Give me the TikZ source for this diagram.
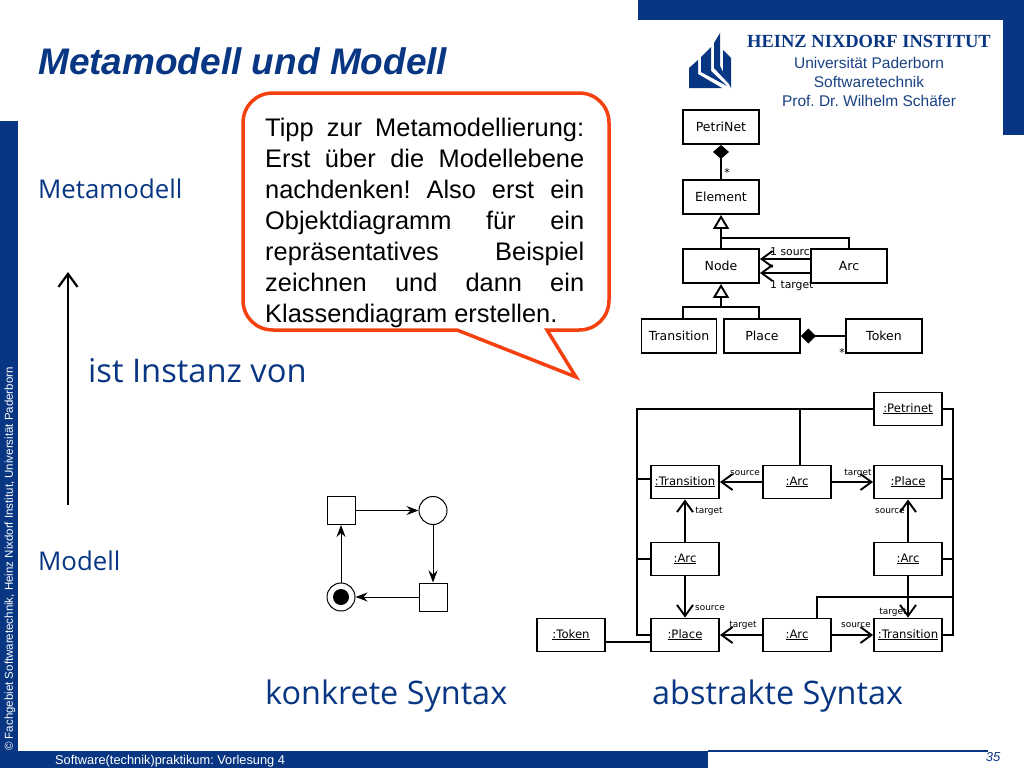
\documentclass[tikz,border=0pt]{standalone}
\usepackage{fontspec}
\setmainfont{Liberation Sans}
\newfontfamily\umlfont{DejaVu Sans}[Scale=0.94]
\newfontfamily\slidefont{Open Sans}
\newfontfamily\logofont{Liberation Serif}
\usetikzlibrary{arrows.meta,positioning,calc}
\definecolor{hnblue}{RGB}{8,54,130}
\definecolor{tipred}{RGB}{245,64,16}
\tikzset{
    classbox/.style={rectangle, draw=black, line width=1.9pt, fill=white, minimum width=76pt, minimum height=34pt, inner sep=0pt, font=\umlfont\fontsize{13.3}{15}\selectfont},
    objbox/.style={rectangle, draw=black, line width=1.9pt, fill=white, minimum width=68pt, minimum height=33pt, inner sep=0pt, text height=9pt, text depth=3pt, font=\umlfont\fontsize{12.4}{14}\selectfont},
    rolelabel/.style={inner sep=0pt, font=\umlfont\fontsize{9.5}{11}\selectfont},
    multlabel/.style={inner sep=0pt, font=\umlfont\fontsize{11.5}{13}\selectfont},
    slidelabel/.style={inner sep=0pt, anchor=west, text=hnblue, font=\slidefont\fontsize{25.8}{30}\selectfont},
    syntaxlabel/.style={slidelabel, font=\slidefont\fontsize{32.4}{34}\selectfont},
    logoline/.style={inner sep=0pt, text=hnblue!85!gray, font=\fontsize{15.5}{17}\selectfont},
    uline/.style={draw=black, line width=1.9pt},
    openarrow/.style={uline, -{Straight Barb[length=11pt, width=16pt, line width=1.9pt]}},
    placenode/.style={circle, draw=black, line width=1pt, fill=white, minimum size=28pt, inner sep=0pt},
    transnode/.style={rectangle, draw=black, line width=1pt, fill=white, minimum size=28pt, inner sep=0pt},
    netarrow/.style={draw=black, line width=1pt, -{Stealth[length=12pt, width=9pt, inset=4pt]}}
}
\begin{document}
\frenchspacing
\begin{tikzpicture}[x=1pt, y=-1pt]
    \useasboundingbox (0, 0) rectangle (1024, 768);

    %frame
    \fill[hnblue] (638, 0) rectangle (1024, 20);
    \fill[hnblue] (1003, 0) rectangle (1024, 135);
    \fill[hnblue] (0, 121) rectangle (18, 768);
    \fill[hnblue] (0, 751) rectangle (708, 768);
    \draw[hnblue, line width=1.5pt] (708, 751) -- (988, 751);

    %logo
    \fill[hnblue] (689, 88) -- (689, 68) -- (698, 60) -- (698, 74) -- (722, 88) -- cycle;
    \fill[hnblue] (701, 57) -- (711, 47) -- (711, 71) -- (727, 86) -- (701, 72) -- cycle;
    \fill[hnblue] (714, 43) -- (720, 33) -- (720, 66) -- (729, 84) -- (714, 68) -- cycle;
    \fill[hnblue] (723, 50) -- (731, 58) -- (731, 88) -- (723, 72) -- cycle;
    \node (logo_name) [inner sep=0pt, text=hnblue, font=\logofont\bfseries\fontsize{18.5}{20}\selectfont] at (869, 41) {HEINZ NIXDORF INSTITUT};
    \node (logo_uni) [logoline] at (869, 63) {Universität Paderborn};
    \node (logo_group) [logoline] at (869, 82) {Softwaretechnik};
    \node (logo_prof) [logoline] at (869, 101) {Prof. Dr. Wilhelm Schäfer};

    %title and footer
    \node (title) [inner sep=0pt, anchor=west, text=hnblue, font=\bfseries\itshape\fontsize{37}{40}\selectfont] at (38, 61) {Metamodell und Modell};
    \node (copyright) [inner sep=0pt, anchor=west, rotate=90, text=white, font=\fontsize{11.5}{13}\selectfont] at (10, 751)
    {
        © Fachgebiet Softwaretechnik, Heinz Nixdorf Institut, Universität Paderborn
    };
    \node (course) [inner sep=0pt, anchor=west, text=white, font=\fontsize{12.8}{14}\selectfont] at (55, 761) {Software(technik)praktikum: Vorlesung 4};
    \node (page_no) [inner sep=0pt, text=hnblue, font=\itshape\fontsize{13}{15}\selectfont] at (993, 757) {35};

    %levels
    \node (meta_label) [slidelabel] at (38, 189) {Metamodell};
    \node (instance_label) [slidelabel, font=\slidefont\fontsize{32.7}{35}\selectfont] at (88, 371) {ist Instanz von};
    \node (model_label) [slidelabel] at (38, 561) {Modell};
    \node (concrete_label) [syntaxlabel] at (265, 696) {konkrete Syntax};
    \node (abstract_label) [syntaxlabel] at (652, 696) {abstrakte Syntax};
    \coordinate (instance_from) at (68, 505);
    \coordinate (instance_to) at (68, 272);
    \draw[line width=2.5pt, -{Straight Barb[length=13pt, width=19pt, line width=2.2pt]}] (instance_from) -- (instance_to);

    %callout
    \draw[tipred, line width=3.5pt, fill=white]
        (273, 93) -- (579, 93) .. controls (596, 93) and (609, 106) .. (609, 123)
        -- (609, 300) .. controls (609, 317) and (596, 330) .. (579, 330)
        -- (547, 330) -- (576, 377) -- (457, 330)
        -- (273, 330) .. controls (256, 330) and (243, 317) .. (243, 300)
        -- (243, 123) .. controls (243, 106) and (256, 93) .. (273, 93) -- cycle;
    \node (tip_text) [inner sep=0pt, anchor=north west, text width=319pt, align=justify, font=\fontsize{25.4}{31}\selectfont] at (265, 118)
    {
        Tipp zur Metamodellierung:\linebreak
        Erst über die Modellebene\linebreak
        nachdenken! Also erst ein\linebreak
        Objektdiagramm für ein\linebreak
        repräsentatives Beispiel\linebreak
        zeichnen und dann ein\linebreak
        Klassendiagram erstellen.
    };

    %metamodel
    \node (source_role) [multlabel, anchor=west] at (770, 252) {1 source};
    \node (target_role) [multlabel, anchor=west] at (770, 286) {1 target};
    \node (elements_mult) [multlabel] at (727, 172) {*};
    \node (tokens_mult) [multlabel] at (842, 352) {*};

    \node (petrinet_cls) [classbox] at (721, 127) {PetriNet};
    \node (element_cls) [classbox] at (721, 197) {Element};
    \node (node_cls) [classbox] at (721, 266) {Node};
    \node (arc_cls) [classbox] at (849, 266) {Arc};
    \node (transition_cls) [classbox, minimum width=75pt] at (679, 336) {Transition};
    \node (place_cls) [classbox] at (762, 336) {Place};
    \node (token_cls) [classbox] at (884, 336) {Token};

    \draw[uline, {Diamond[length=14pt, width=16pt]}-] (petrinet_cls) -- (element_cls);
    \draw[uline, -{Triangle[open, length=14pt, width=16pt, fill=white]}] (node_cls) -- (element_cls);
    \draw[uline] (arc_cls.north) |- (721, 238);
    \draw[openarrow] ([yshift=7pt]arc_cls.west) -- ([yshift=7pt]node_cls.east);
    \draw[openarrow] ([yshift=-7pt]arc_cls.west) -- ([yshift=-7pt]node_cls.east);
    \coordinate (inherit_join) at (721, 307);
    \draw[uline, -{Triangle[open, length=14pt, width=16pt, fill=white]}] (inherit_join) -- (node_cls);
    \draw[uline] (transition_cls.north -| 683, 0) |- (inherit_join);
    \draw[uline] (place_cls.north -| 759, 0) |- (inherit_join);
    \draw[uline, {Diamond[length=15pt, width=15pt]}-] (place_cls) -- (token_cls);

    %object diagram labels
    \node (src_a) [rolelabel] at (745, 473) {source};
    \node (tgt_a) [rolelabel] at (858, 473) {target};
    \node (tgt_b) [rolelabel] at (709, 511) {target};
    \node (src_b) [rolelabel] at (890, 511) {source};
    \node (src_c) [rolelabel] at (710, 608) {source};
    \node (tgt_c) [rolelabel] at (893, 612) {target};
    \node (tgt_d) [rolelabel] at (743, 625) {target};
    \node (src_d) [rolelabel] at (856, 625) {source};

    %object diagram
    \node (petrinet_obj) [objbox] at (908, 409) {\underline{:Petrinet}};
    \node (transition_a_obj) [objbox] at (685, 482) {\underline{:Transition}};
    \node (arc_a_obj) [objbox] at (797, 482) {\underline{:Arc}};
    \node (place_a_obj) [objbox] at (908, 482) {\underline{:Place}};
    \node (arc_b_obj) [objbox] at (685, 559) {\underline{:Arc}};
    \node (arc_c_obj) [objbox] at (908, 559) {\underline{:Arc}};
    \node (token_obj) [objbox] at (571, 635) {\underline{:Token}};
    \node (place_b_obj) [objbox] at (685, 635) {\underline{:Place}};
    \node (arc_d_obj) [objbox] at (797, 635) {\underline{:Arc}};
    \node (transition_b_obj) [objbox] at (908, 635) {\underline{:Transition}};

    \coordinate (left_rail_top) at (637, 409);
    \coordinate (right_rail_top) at (953, 409);
    \draw[uline] (petrinet_obj.west) -- (left_rail_top) -- (left_rail_top |- place_b_obj.west) -- (place_b_obj.west);
    \draw[uline] (petrinet_obj.east) -- (right_rail_top) -- (right_rail_top |- transition_b_obj.east) -- (transition_b_obj.east);
    \draw[uline] ([xshift=3pt]arc_a_obj.north) -- ([xshift=3pt]arc_a_obj.north |- petrinet_obj.west);
    \draw[uline] ([yshift=3pt]transition_a_obj.west) -- ([yshift=3pt]transition_a_obj.west -| left_rail_top);
    \draw[uline] (arc_b_obj.west) -- (arc_b_obj.west -| left_rail_top);
    \draw[uline] ([yshift=3pt]place_a_obj.east) -- ([yshift=3pt]place_a_obj.east -| right_rail_top);
    \draw[uline] (arc_c_obj.east) -- (arc_c_obj.east -| right_rail_top);
    \coordinate (arc_d_join) at (817, 597);
    \draw[uline] (arc_d_obj.north -| arc_d_join) -- (arc_d_join) -- (arc_d_join -| right_rail_top);
    \draw[uline] (token_obj.east |- 0, 642) -- (place_b_obj.west |- 0, 642);

    \draw[openarrow] (arc_a_obj) -- (transition_a_obj);
    \draw[openarrow] (arc_a_obj) -- (place_a_obj);
    \draw[openarrow] (arc_b_obj) -- (transition_a_obj);
    \draw[openarrow] (arc_b_obj) -- (place_b_obj);
    \draw[openarrow] (arc_c_obj) -- (place_a_obj);
    \draw[openarrow] (arc_c_obj) -- (transition_b_obj);
    \draw[openarrow] (arc_d_obj) -- (place_b_obj);
    \draw[openarrow] (arc_d_obj) -- (transition_b_obj);

    %concrete syntax
    \node (trans_tl) [transnode] at (341, 510.5) {};
    \node (place_tr) [placenode] at (433, 510.5) {};
    \node (trans_br) [transnode] at (433, 597) {};
    \node (place_bl) [placenode] at (341, 597) {};
    \fill[black] (place_bl) circle (8);
    \draw[netarrow] (trans_tl) -- (place_tr);
    \draw[netarrow] (place_tr) -- (trans_br);
    \draw[netarrow] (trans_br) -- (place_bl);
    \draw[netarrow] (place_bl) -- (trans_tl);
\end{tikzpicture}
\end{document}
